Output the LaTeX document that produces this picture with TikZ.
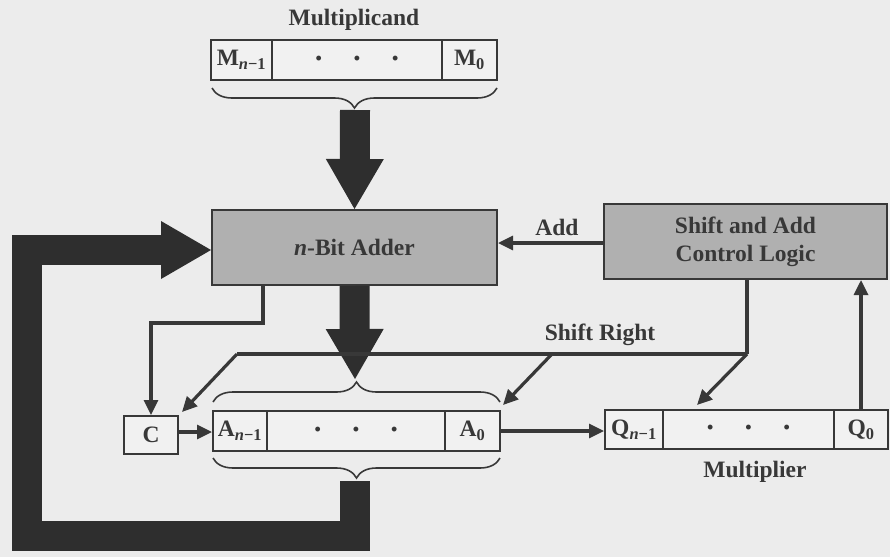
\documentclass[tikz,border=0pt]{standalone}
\usepackage{fontspec}
\setmainfont{Liberation Serif}
\usetikzlibrary{arrows.meta,decorations.pathreplacing,calc}
\definecolor{bg}{HTML}{ECECEC}
\definecolor{regfill}{HTML}{F1F1F1}
\definecolor{boxfill}{HTML}{B0B0B0}
\definecolor{ink}{HTML}{383838}
\definecolor{dark}{HTML}{2E2E2E}
\newcommand\regdots{{\fontsize{18}{18}\selectfont •\hspace{32pt}•\hspace{32pt}•}}
\begin{document}
\begin{tikzpicture}[x=1pt,y=-1pt,
  every node/.style={font=\fontsize{23.5}{28}\selectfont\bfseries, text=ink},
  cell/.style={draw=ink, line width=2pt, fill=regfill, minimum height=40pt, inner sep=0pt, minimum width=#1},
  unit/.style={draw=ink, line width=2pt, fill=boxfill, inner sep=0pt, align=center},
  lbl/.style={inner sep=1pt},
  conn/.style={draw=ink, line width=3.2pt},
  arr/.style={conn, -{Triangle[length=15pt,width=14pt]}},
  bigarrow/.style={draw=dark, line width=30pt, -{Triangle[length=50pt,width=58pt,line width=0pt]}},
  brc/.style={draw=ink, line width=1.6pt, decorate, decoration={brace,amplitude=20pt}},
  mbrc/.style={brc, decoration={brace,amplitude=20pt,mirror}}]
\fill[bg] (0,0) rectangle (890,557);
\useasboundingbox (0,0) rectangle (890,557);

% Multiplicand register
\node[lbl] (mlabel) at (354,20) {Multiplicand};
\node[cell=61pt] (m1) at (241.5,60) {M\textsubscript{\textit{n}−1}};
\node[cell=170pt] (md) at (357,60) {\regdots};
\node[cell=55pt] (m0) at (469.5,60) {M\textsubscript{0}};
\draw[mbrc] (212,88) -- (497,88);
\coordinate (mtip) at (355,110);

% Adder and control
\node[unit, minimum width=285pt, minimum height=75pt] (adder) at (354.5,247.5) {\textit{n}-Bit Adder};
\node[unit, minimum width=283pt, minimum height=75pt] (ctrl) at (745.5,241.5) {Shift and Add\\Control Logic};

% A register
\node[cell=54pt] (a1) at (240,431) {A\textsubscript{\textit{n}−1}};
\node[cell=178pt] (ad) at (356,431) {\regdots};
\node[cell=55pt] (a0) at (472.5,431) {A\textsubscript{0}};
\draw[brc] (213,402) -- (500,402);
\draw[mbrc] (213,458) -- (500,458);
\coordinate (atop) at (355,379);
\coordinate (abot) at (355,481);

% C
\node[cell=54pt, minimum height=38pt] (c) at (151,435) {C};

% Q register
\node[cell=58pt, minimum height=39pt] (q1) at (634,429.5) {Q\textsubscript{\textit{n}−1}};
\node[cell=171pt, minimum height=39pt] (qd) at (748.5,429.5) {\regdots};
\node[cell=54pt, minimum height=39pt] (q0) at (861,429.5) {Q\textsubscript{0}};
\node[lbl] (mult) at (755,472) {Multiplier};

% big arrows
\draw[bigarrow] (mtip) -- (adder.north);
\draw[bigarrow] (adder.south) -- (atop);
\draw[bigarrow, line join=miter] (abot) -- (355,536) -- (27,536) -- (27,250) -- (adder.west |- 0,250);

% Add
\coordinate (addy) at (0,243);
\draw[arr] (ctrl.west |- addy) -- (adder.east |- addy);
\node[lbl] (addlbl) at (557,227) {Add};

% adder -> C
\draw[arr] (263,285) -- (263,323) -| (c.north);

% Shift right
\coordinate (sr) at (747,354);
\coordinate (srl) at (237,354);
\coordinate (srm) at (552,354);
\draw[conn] (ctrl.south -| sr) -- (sr);
\draw[conn] (srl) -- (sr);
\node[lbl] (srlbl) at (600,335) {Shift Right};
\draw[arr] (srl) -- (182,412);
\draw[arr] (srm) -- (503,405);
\draw[arr] (sr) -- (697,405);

% C -> A, A0 -> Q
\draw[arr] (c.east |- 0,432) -- (a1.west |- 0,432);
\draw[arr] (a0.east |- 0,431) -- (q1.west |- 0,431);

% Q0 -> control
\draw[arr] (q0.north) -- (q0.north |- ctrl.south);
\end{tikzpicture}
\end{document}
